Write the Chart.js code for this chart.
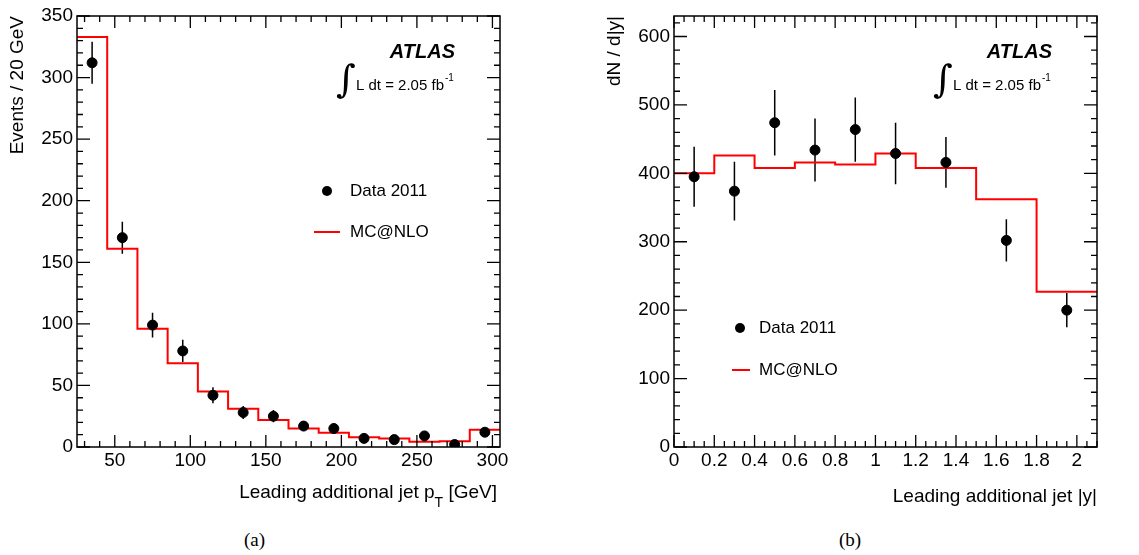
<!DOCTYPE html>
<html>
<head>
<meta charset="utf-8">
<script src="https://cdn.jsdelivr.net/npm/chart.js@4.4.1/dist/chart.umd.min.js"></script>
<style>
    body { margin: 0; background: #fff; width: 1139px; height: 555px; position: relative; overflow: hidden; }
    canvas { position: absolute; top: 0; }
    #ptChart { left: 0; }
    #rapChart { left: 570px; }
    .caption { position: absolute; top: 529px; font: 19px "Liberation Serif", serif; color: #000; }
</style>
</head>
<body>
<canvas id="ptChart" width="570" height="510"></canvas>
<canvas id="rapChart" width="569" height="510"></canvas>
<div class="caption" style="left:244px">(a)</div>
<div class="caption" style="left:839px">(b)</div>
<script>
// Panel (a): leading additional jet pT
const ptEdges = [25, 45, 65, 85, 105, 125, 145, 165, 185, 205, 225, 245, 265, 285, 305];
const ptMc = [333, 161, 96, 68, 45, 31, 22, 15, 11.5, 8, 7, 4.3, 4.6, 14];
const ptCentres = [35, 55, 75, 95, 115, 135, 155, 175, 195, 215, 235, 255, 275, 295];
const ptData = [312, 170, 99, 78, 42, 28, 25, 17, 15, 7, 6, 9, 2, 12];
const ptErr = [17, 13, 10, 9, 6.5, 5.3, 5, 4, 4, 2.6, 2.5, 3, 1.4, 3.5];
const ptTicksX = [50, 100, 150, 200, 250, 300];
const ptTicksY = [0, 50, 100, 150, 200, 250, 300, 350];

// Panel (b): leading additional jet |y|
const rapEdges = [0, 0.2, 0.4, 0.6, 0.8, 1.0, 1.2, 1.5, 1.8, 2.1];
const rapMc = [400, 426, 408, 416, 413, 429, 408, 362, 227];
const rapCentres = [0.1, 0.3, 0.5, 0.7, 0.9, 1.1, 1.35, 1.65, 1.95];
const rapData = [395, 374, 474, 434, 464, 429, 416, 302, 200];
const rapErr = [44, 43, 48, 46, 47, 45, 37, 31, 25];
const rapTicksX = [0, 0.2, 0.4, 0.6, 0.8, 1, 1.2, 1.4, 1.6, 1.8, 2];
const rapTicksY = [0, 100, 200, 300, 400, 500, 600];

Chart.defaults.font.family = '"Liberation Sans", Arial, sans-serif';
Chart.defaults.color = '#000';

// histogram points: one per lower bin edge, plus the last edge
function stepPoints(edges, values) {
    return edges.map((e, i) => ({ x: e, y: values[Math.min(i, values.length - 1)] }));
}

// vertical error bars through the scales
const errorBars = {
    id: 'errorBars',
    beforeDatasetsDraw(chart) {
        const { ctx, scales: { x, y } } = chart;
        chart.data.datasets.forEach(ds => {
            if (!ds.errors) return;
            ctx.save();
            ctx.strokeStyle = '#000';
            ctx.lineWidth = 1.5;
            ctx.beginPath();
            ds.data.forEach((p, i) => {
                const px = x.getPixelForValue(p.x);
                ctx.moveTo(px, y.getPixelForValue(p.y - ds.errors[i]));
                ctx.lineTo(px, y.getPixelForValue(p.y + ds.errors[i]));
            });
            ctx.stroke();
            ctx.restore();
        });
    }
};

// ROOT style frame with inner ticks on all four sides
const rootFrame = {
    id: 'rootFrame',
    afterDraw(chart, args, o) {
        const { ctx, chartArea: a, scales: { x, y } } = chart;
        const isMajor = (k, n) => k % n === 0;
        ctx.save();
        ctx.strokeStyle = '#000';
        ctx.lineWidth = 1.3;
        ctx.beginPath();
        for (let k = Math.ceil(x.min / o.xMinor - 1e-6); k * o.xMinor <= x.max + 1e-9; k++) {
            const px = x.getPixelForValue(k * o.xMinor);
            const len = isMajor(k, o.xPer) ? 12 : 6;
            ctx.moveTo(px, a.bottom); ctx.lineTo(px, a.bottom - len);
            ctx.moveTo(px, a.top); ctx.lineTo(px, a.top + len);
        }
        for (let k = Math.ceil(y.min / o.yMinor - 1e-6); k * o.yMinor <= y.max + 1e-9; k++) {
            const py = y.getPixelForValue(k * o.yMinor);
            const len = isMajor(k, o.yPer) ? 13 : 6;
            ctx.moveTo(a.left, py); ctx.lineTo(a.left + len, py);
            ctx.moveTo(a.right, py); ctx.lineTo(a.right - len, py);
        }
        ctx.stroke();
        ctx.lineWidth = 1.5;
        ctx.strokeRect(a.left, a.top, a.width, a.height);
        ctx.restore();
    }
};

// ATLAS label, luminosity, legend and x title
const atlasLabels = {
    id: 'atlasLabels',
    afterDraw(chart, args, o) {
        const { ctx, chartArea: a } = chart;
        ctx.save();
        ctx.fillStyle = '#000';
        ctx.textBaseline = 'middle';

        ctx.textAlign = 'right';
        ctx.font = 'italic bold 20px "Liberation Sans"';
        ctx.fillText('ATLAS', a.right - 45, a.top + 36);

        ctx.textAlign = 'left';
        ctx.font = '38px "DejaVu Serif"';
        ctx.fillText('\u222B', a.right - 164, a.top + 66);
        ctx.font = '15px "Liberation Sans"';
        const lumi = 'L dt = 2.05 fb';
        ctx.fillText(lumi, a.right - 144, a.top + 70);
        const lw = ctx.measureText(lumi).width;
        ctx.font = '10px "Liberation Sans"';
        ctx.fillText('-1', a.right - 144 + lw + 1, a.top + 62);

        // legend
        const L = o.legend;
        ctx.font = '17px "Liberation Sans"';
        ctx.beginPath();
        ctx.arc(a.left + L.marker, a.top + L.dataY, 5, 0, Math.PI * 2);
        ctx.fill();
        ctx.fillText('Data 2011', a.left + L.text, a.top + L.dataY);
        ctx.strokeStyle = '#ff0000';
        ctx.lineWidth = 2;
        ctx.beginPath();
        ctx.moveTo(a.left + L.line[0], a.top + L.mcY);
        ctx.lineTo(a.left + L.line[1], a.top + L.mcY);
        ctx.stroke();
        ctx.fillText('MC@NLO', a.left + L.text, a.top + L.mcY);

        // x axis title, right aligned, optional subscript
        const T = o.xTitle;
        ctx.textBaseline = 'alphabetic';
        const main = '19px "Liberation Sans"', small = '14px "Liberation Sans"';
        ctx.font = main;
        const w1 = ctx.measureText(T.text).width;
        const w3 = ctx.measureText(T.after || '').width;
        ctx.font = small;
        const w2 = T.sub ? ctx.measureText(T.sub).width : 0;
        let xx = a.right - T.inset - w1 - w2 - w3;
        const base = a.bottom + T.base;
        ctx.font = main;
        ctx.fillText(T.text, xx, base);
        xx += w1;
        if (T.sub) {
            ctx.font = small;
            ctx.fillText(T.sub, xx, base + 9);
            xx += w2;
            ctx.font = main;
            ctx.fillText(T.after, xx, base);
        }
        ctx.restore();
    }
};

function makeChart(id, cfg) {
    return new Chart(document.getElementById(id), {
        data: {
            datasets: [{
                type: 'scatter',
                label: 'Data 2011',
                data: cfg.centres.map((c, i) => ({ x: c, y: cfg.values[i] })),
                errors: cfg.errors,
                backgroundColor: '#000',
                borderColor: '#000',
                pointRadius: 5
            }, {
                type: 'line',
                label: 'MC@NLO',
                data: stepPoints(cfg.edges, cfg.mc),
                stepped: true,
                borderColor: '#ff0000',
                borderWidth: 2,
                pointRadius: 0,
                fill: false
            }]
        },
        options: {
            responsive: false,
            animation: false,
            devicePixelRatio: 1,
            layout: { padding: { left: 0, top: 16, right: cfg.padRight, bottom: 0 } },
            scales: {
                x: {
                    type: 'linear',
                    min: cfg.xMin,
                    max: cfg.xMax,
                    grid: { display: false, drawTicks: false },
                    border: { display: false },
                    afterBuildTicks: s => { s.ticks = cfg.ticksX.map(v => ({ value: v })); },
                    afterFit: s => { s.height = 63; },
                    ticks: { font: { size: 19 }, padding: 2, maxRotation: 0, autoSkip: false,
                             callback: v => String(v) }
                },
                y: {
                    type: 'linear',
                    min: 0,
                    max: cfg.yMax,
                    grid: { display: false, drawTicks: false },
                    border: { display: false },
                    afterBuildTicks: s => { s.ticks = cfg.ticksY.map(v => ({ value: v })); },
                    afterFit: s => { s.width = cfg.yWidth; },
                    ticks: { font: { size: 19 }, padding: 4, autoSkip: false },
                    title: { display: true, text: cfg.yTitle, align: 'end',
                             font: { size: 19 }, padding: { top: cfg.yTitlePad, bottom: 0 } }
                }
            },
            plugins: {
                legend: { display: false },
                tooltip: { enabled: false },
                rootFrame: cfg.frame,
                atlasLabels: { legend: cfg.legend, xTitle: cfg.xTitle }
            }
        },
        plugins: [errorBars, rootFrame, atlasLabels]
    });
}

makeChart('ptChart', {
    centres: ptCentres, values: ptData, errors: ptErr, edges: ptEdges, mc: ptMc,
    ticksX: ptTicksX, ticksY: ptTicksY, xMin: 25, xMax: 305, yMax: 350,
    padRight: 70, yWidth: 77, yTitle: 'Events / 20 GeV', yTitlePad: 6.6,
    frame: { xMinor: 10, xPer: 5, yMinor: 10, yPer: 5 },
    legend: { marker: 250, text: 273, dataY: 175, mcY: 216, line: [237, 263] },
    xTitle: { text: 'Leading additional jet p', sub: 'T', after: ' [GeV]', inset: 3, base: 51 }
});

makeChart('rapChart', {
    centres: rapCentres, values: rapData, errors: rapErr, edges: rapEdges, mc: rapMc,
    ticksX: rapTicksX, ticksY: rapTicksY, xMin: 0, xMax: 2.1, yMax: 630,
    padRight: 42, yWidth: 104, yTitle: 'dN / d|y|', yTitlePad: 33.6,
    frame: { xMinor: 0.05, xPer: 4, yMinor: 20, yPer: 5 },
    legend: { marker: 66, text: 85, dataY: 312, mcY: 354, line: [58, 76] },
    xTitle: { text: 'Leading additional jet |y|', inset: 0, base: 55 }
});
</script>
</body>
</html>
